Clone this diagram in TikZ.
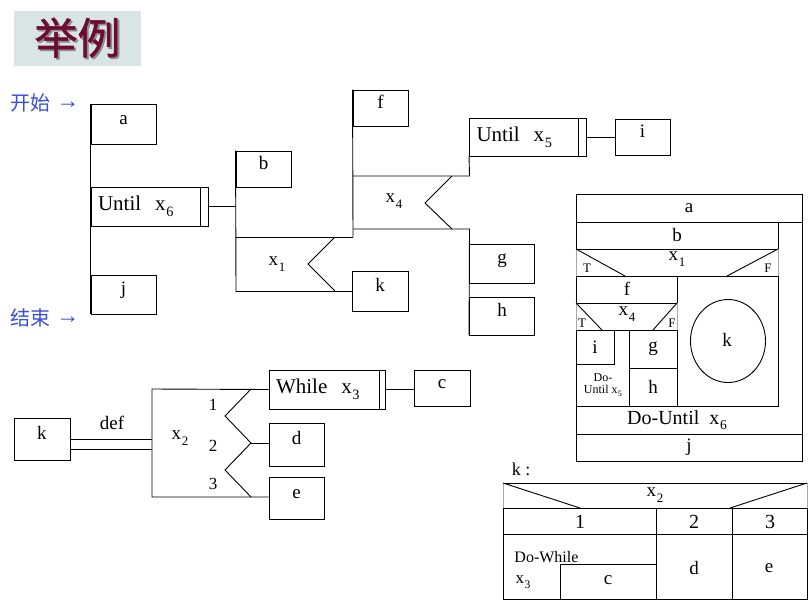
\documentclass[tikz,border=0pt]{standalone}
\usepackage{fontspec}
\setmainfont{Liberation Serif}
\newfontfamily\cjk{Noto Sans CJK SC}
\newfontfamily\cjkt[FakeBold=1.2]{Noto Sans CJK SC}
\definecolor{titlebg}{HTML}{D9E5E5}
\definecolor{titlefg}{HTML}{6E0B32}
\definecolor{blueT}{HTML}{3A4BE0}
\definecolor{graybd}{HTML}{A8A8A8}
\newcommand{\xsub}[1]{x\kern0.03em\raisebox{-0.28em}{\scalebox{0.68}{#1}}}
\newcommand{\fs}[1]{\fontsize{#1}{#1}\selectfont}
\newcommand{\rarr}{\kern6pt\raisebox{2pt}{\rmfamily\fs{23}→}}
\begin{document}
\begin{tikzpicture}[x=1pt,y=-1pt,line width=0.9pt,
  bx/.style={draw, inner sep=0pt, font=\fs{19}, text height=8pt, text depth=8pt},
  ubx/.style={draw, inner sep=0pt, inner xsep=7pt, align=left, font=\fs{21}},
  lbl/.style={inner sep=0pt, font=\fs{19}},
  sml/.style={inner sep=0pt, font=\fs{13}},
  num/.style={inner sep=0pt, font=\fs{17}},
  cn/.style={inner sep=0pt, text=blueT, font=\cjk\fs{20}, anchor=west}]
\useasboundingbox (0,0) rectangle (812,603);

% title
\node[fill=titlebg, minimum width=127pt, minimum height=55pt, inner sep=0pt, font=\cjkt\fs{43}, text=titlefg] (title) at (77.5,38.5)
  {\makebox[0pt][l]{\kern1.8pt\raisebox{-1.8pt}{\textcolor{black!45}{举例}}}举例};

% start / end
\node[cn] (start) at (10,103) {开始\rarr};
\node[cn] (stop) at (10,318) {结束\rarr};

% ---------- top-left tree ----------
\node[bx, minimum width=65pt, minimum height=40pt] (a) at (123.5,124) {a};
\node[ubx, minimum width=117pt, minimum height=39pt, text width=103pt] (u6) at (149.5,206.5) {Until\ \ \xsub{6}};
\draw ([xshift=-8.5pt]u6.north east) -- ([xshift=-8.5pt]u6.south east);
\node[bx, minimum width=65pt, minimum height=39pt] (j) at (123.5,294.5) {j};
\draw (a.north west) -- (j.south west);

\node[bx, minimum width=55pt, minimum height=36pt] (b) at (263.5,169) {b};
\draw (u6.east) -- (u6.east -| b.west);
\coordinate (x1tl) at (236,237);
\coordinate (x1bl) at (236,291);
\coordinate (x1end) at (236,292);
\coordinate (x1tr) at (353,237);
\coordinate (c1a) at (335,237);
\coordinate (c1b) at (308,264);
\coordinate (c1c) at (335,291);
\node[bx, minimum width=56pt, minimum height=40pt] (k) at (380,291) {k};
\draw (b.north west) -- (x1end);
\draw (x1tl) -- (x1tr);
\draw (x1bl) -- (k.west);
\draw (c1a) -- (c1b) -- (c1c);
\node[lbl] (x1l) at (277,264) {\xsub{1}};

\node[bx, minimum width=55pt, minimum height=36pt] (f) at (380.5,108) {f};
\draw (f.north west) -- (x1tr);
\coordinate (x4tl) at (353,176);
\coordinate (x4tr) at (469.5,176);
\coordinate (x4bl) at (353,229);
\coordinate (x4br) at (469.5,229);
\coordinate (c4a) at (452,176);
\coordinate (c4b) at (425,203);
\coordinate (c4c) at (452,229);
\node[ubx, minimum width=117pt, minimum height=38pt, text width=103pt] (u5) at (528,137) {Until\ \ \xsub{5}};
\draw ([xshift=-8.5pt]u5.north east) -- ([xshift=-8.5pt]u5.south east);
\node[bx, minimum width=55pt, minimum height=36pt] (i) at (642.5,137) {i};
\draw (u5.east) -- (i.west);
\draw (x4tl) -- (x4tr) -- (u5.south west);
\draw (c4a) -- (c4b) -- (c4c);
\node[lbl] (x4l) at (394,201) {\xsub{4}};
\node[bx, minimum width=65pt, minimum height=39pt] (g) at (502,263.5) {g};
\node[bx, minimum width=65pt, minimum height=38pt] (h) at (502,316) {h};
\draw (x4bl) -- (x4br) -- (h.south west);

% ---------- bottom-left tree ----------
\node[bx, minimum width=56pt, minimum height=42pt] (k2) at (42,439) {k};
\coordinate (x2tl) at (152,389);
\coordinate (x2bl) at (152,497);
\draw (k2.east) -- (k2.east -| x2tl);
\draw ([yshift=-10pt]k2.east) -- ([yshift=-10pt]k2.east -| x2tl);
\node[lbl] (def) at (112,423) {def};
\node[ubx, minimum width=116pt, minimum height=39pt, text width=102pt] (wh) at (327,389.5) {While\ \ \xsub{3}};
\draw ([xshift=-6.5pt]wh.north east) -- ([xshift=-6.5pt]wh.south east);
\node[bx, minimum width=56pt, minimum height=36pt] (c) at (442,388) {c};
\draw (wh.east) -- (wh.east -| c.west);
\node[bx, minimum width=55pt, minimum height=43pt] (d) at (296.5,444.5) {d};
\node[bx, minimum width=55pt, minimum height=42pt] (e) at (296.5,498) {e};
\draw (wh.west) -- (x2tl) -- (x2bl) -- (x2bl -| e.west);
\coordinate (c2a) at (251,389);
\coordinate (c2b) at (225,416);
\coordinate (c2c) at (251,443);
\coordinate (c2d) at (225,470);
\coordinate (c2e) at (251,497);
\draw (c2a) -- (c2b) -- (c2c) -- (c2d) -- (c2e);
\draw (c2c) -- (c2c -| d.west);
\node[num] (n1) at (213,405) {1};
\node[num] (n2) at (213,446) {2};
\node[num] (n3) at (213,484) {3};
\node[lbl] (x2l) at (180,438) {\xsub{2}};

% ---------- N-S diagram ----------
\draw (576,194) rectangle (802,461);
\draw (576,222) -- (802,222);
\node[lbl] (nsa) at (689,208) {a};
\draw (778,222) -- (778,406) -- (576,406);
\draw (576,249) -- (778,249);
\node[lbl] (nsb) at (677,235) {b};
\draw[graybd] (576,249) -- (576,276) (778,249) -- (778,276);
\draw (576,276) -- (778,276);
\draw (576,249) -- (625,276);
\draw (778,249) -- (727,276);
\node[sml] (t1) at (587,268) {T};
\node[sml] (f1) at (768,268) {F};
\node[lbl] (nsx1) at (677,259) {\xsub{1}};
\draw (677,276) -- (677,406);
\draw (576,303) -- (677,303);
\node[lbl] (nsf) at (627,289) {f};
\draw[graybd] (576,303) -- (576,330) (677,303) -- (677,330);
\draw (576,330) -- (677,330);
\draw (576,303) -- (602,330);
\draw (677,303) -- (653,330);
\node[sml] (t4) at (582,323) {T};
\node[sml] (f4) at (672,323) {F};
\node[lbl] (nsx4) at (627,314) {\xsub{4}};
\draw (576,364) -- (614,364) -- (614,330);
\node[lbl] (nsi) at (595,347) {i};
\draw (629,330) -- (629,406);
\draw (629,368) -- (677,368);
\node[lbl] (nsg) at (653,349) {g};
\node[lbl] (nsh) at (653,387) {h};
\node[inner sep=0pt, font=\fs{12}, align=center] (du5) at (603,385) {Do-\\Until \xsub{5}};
\draw (728,341) ellipse [x radius=37.5, y radius=41.5];
\node[lbl] (nsk) at (727,340) {k};
\node[inner sep=0pt, font=\fs{20}] (du6) at (677,420) {Do-Until\ \ \xsub{6}};
\draw (576,434) -- (802,434);
\node[lbl] (nsj) at (689,447) {j};

% ---------- table for k ----------
\node[inner sep=0pt, font=\fs{18}] (kc) at (521,469) {k :};
\draw (503,483) rectangle (807,599);
\draw[graybd] (503,483) -- (503,508) (807,483) -- (807,508);
\draw (503,508) -- (807,508);
\draw (503,483) -- (580,508);
\draw (807,483) -- (730,508);
\node[lbl] (tx2) at (655,495) {\xsub{2}};
\draw (503,534) -- (807,534);
\draw (656,508) -- (656,599);
\draw (732,508) -- (732,599);
\node[inner sep=0pt, font=\fs{20}] (t1c) at (580,522) {1};
\node[inner sep=0pt, font=\fs{20}] (t2c) at (694,522) {2};
\node[inner sep=0pt, font=\fs{20}] (t3c) at (770,522) {3};
\draw (560,599) -- (560,564) -- (656,564);
\node[lbl] (tc) at (608,580) {c};
\node[inner sep=0pt, font=\fs{16}, anchor=west] (dw) at (514,557) {Do-While};
\node[inner sep=0pt, font=\fs{17}] (tx3) at (523,582) {\xsub{3}};
\node[lbl] (td) at (694,568) {d};
\node[lbl] (te) at (769,568) {e};
\end{tikzpicture}
\end{document}
